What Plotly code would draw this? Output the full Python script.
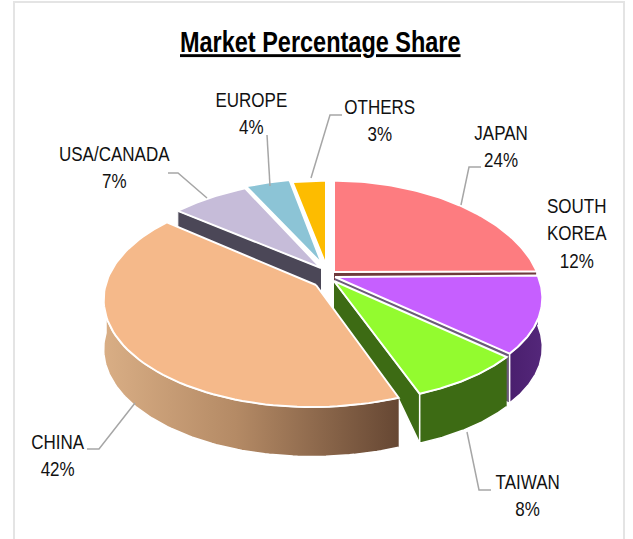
import numpy as np
import plotly.graph_objects as go

# --- data (clockwise from 12 o'clock) ---
labels = ["JAPAN", "SOUTH<br>KOREA", "TAIWAN", "CHINA", "USA/CANADA", "EUROPE", "OTHERS"]
values = [24, 12, 8, 42, 7, 4, 3]
title_text = "Market Percentage Share"

# --- styles ---
top_colors = ["#fd7c80", "#c65fff", "#93fb2f", "#f5b98a", "#c6bcd9", "#8cc4d6", "#fdbc00"]
wall_colors = ["#6e3a3c", "#6a5a78", "#3d6b14", "#8a6547", "#4b4757", "#4a6f7c", "#8a6a00"]

# --- pie projection (pixel-like layout space) ---
RX, RY, PERSP, SQUARE, DEPTH = 205.0, 105.0, 0.15, 6.0, 49.5
anchors = [(334, 272), (335, 276), (332, 279.5), (311, 283.5), (322, 272), (323, 270), (326, 272)]
tips = [(334, 272), (335, 277), (334, 281), (316, 285), (321, 268), (322, 264), (326, 265)]
draw_order = [4, 5, 6, 0, 1, 2, 3]
walls_outer = {1, 2, 3}

# --- label placement: centre of text block, leader polyline ---
label_pos = [(501, 146), (577, 233), (527, 495), (57, 455), (114, 167), (251, 113), (380, 120)]
leaders = [
    ([481, 469, 461], [167, 167, 205]),
    ([560, 560], [0, 0]),
    ([491, 479, 467], [490, 490, 432]),
    ([87, 99, 135], [449, 449, 403]),
    ([168, 178, 207], [173, 173, 198]),
    ([267, 270], [135, 186]),
    ([342, 330, 311], [115, 115, 178]),
]


def rim(i, t):
    u, v = np.sin(t), np.cos(t)
    d = 1 + PERSP * v
    cx, cy = anchors[i]
    return cx + RX * u / d, cy - RY * v / d + SQUARE * np.clip(u, 0, None) ** 2


edges = np.radians(np.concatenate([[0], np.cumsum(values)]) * 3.6)
fig = go.Figure()


def poly(xs, ys, fill, line="white", width=2, gradient=None):
    kw = dict(fillgradient=gradient) if gradient else dict(fillcolor=fill)
    fig.add_trace(go.Scatter(x=list(xs), y=list(ys), mode="lines", fill="toself",
                             line=dict(color=line, width=width), hoverinfo="skip",
                             showlegend=False, **kw))


for i in draw_order:
    t = np.linspace(edges[i], edges[i + 1], 80)
    x, y = rim(i, t)
    tx, ty = tips[i]
    if i in (0, 1, 4):
        ex, ey = (x[-1], y[-1]) if i != 4 else (x[0], y[0])
        poly([tx, ex, ex, tx], [ty, ey, ey + DEPTH, ty + DEPTH], wall_colors[i], width=1)
    if i == 2:
        # inner cut face of the pulled-out slice, cropped where it meets the next slice
        poly([tx, x[-1], x[-1], 398, tx], [ty, y[-1], y[-1] + DEPTH, 398, ty + 30],
             wall_colors[i], width=1.5)
    if i in walls_outer:
        t2 = t if i != 3 else np.linspace(edges[i], np.radians(270), 100)
        wx, wy = rim(i, t2)
        grad = None
        if i == 3:
            grad = dict(type="horizontal",
                        colorscale=[[0, "#d9ae85"], [0.45, "#b48a65"], [1, "#664733"]])
        if i == 1:
            grad = dict(type="horizontal", colorscale=[[0, "#4a1f6e"], [1, "#54277a"]])
        poly(np.r_[wx, wx[::-1]], np.r_[wy, wy[::-1] + DEPTH], wall_colors[i], width=1.5, gradient=grad)
    poly(np.r_[tx, x, tx], np.r_[ty, y, ty], top_colors[i])

for lx, ly in leaders:
    if lx[0] != lx[-1]:
        fig.add_trace(go.Scatter(x=lx, y=ly, mode="lines", line=dict(color="#a6a6a6", width=1.5),
                                 hoverinfo="skip", showlegend=False))

FONT = "Liberation Sans, Arial, sans-serif"
for name, val, (px, py) in zip(labels, values, label_pos):
    fig.add_annotation(x=px, y=py, text=f"{name}<br>{val}%", showarrow=False, xref="x", yref="y",
                       align="center", font=dict(family=FONT, size=21, color="#111111"))
fig.add_annotation(x=320, y=42, text=f"<b><u>{title_text}</u></b>", showarrow=False,
                   xref="x", yref="y", font=dict(family=FONT, size=29, color="#000000"))

fig.add_shape(type="rect", x0=14, y0=2, x1=624, y1=560, line=dict(color="#e4e4e4", width=2), layer="below")

fig.update_layout(
    width=633, height=539, margin=dict(l=0, r=0, t=0, b=0),
    paper_bgcolor="white", plot_bgcolor="white", showlegend=False,
    xaxis=dict(range=[0, 633], visible=False, fixedrange=True),
    yaxis=dict(range=[539, 0], visible=False, fixedrange=True),
)
# condense the text horizontally (the narrow typeface of the reference is not installed)
condense = """
document.body.style.margin='0';
document.querySelectorAll('.annotation-text').forEach(function(el){
  var b = el.getBBox(), s = 0.81, c = b.x + b.width/2;
  el.setAttribute('transform', 'translate(' + (c*(1-s)) + ',0) scale(' + s + ',1)');
});
"""
fig.write_html("out.html", config={"displayModeBar": False}, post_script=condense)
